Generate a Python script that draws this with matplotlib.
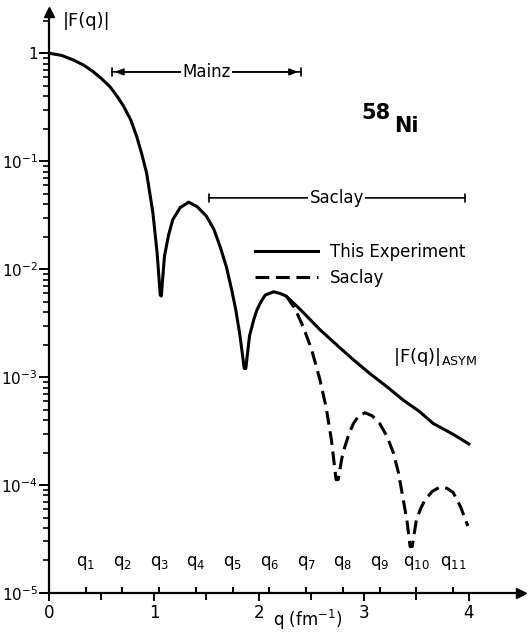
import matplotlib
matplotlib.use("Agg")
import matplotlib.pyplot as plt
import numpy as np

plt.rcParams['font.family'] = ['DejaVu Sans']
plt.rcParams['mathtext.default'] = 'regular'

# solid curve "This Experiment": q (fm^-1) and log10|F(q)|
q_exp = [0.00, 0.12, 0.23, 0.33, 0.42, 0.50, 0.58, 0.65, 0.71, 0.78, 0.835,
         0.88, 0.93, 0.99, 1.03, 1.06, 1.07, 1.10, 1.14, 1.18, 1.25, 1.33,
         1.41, 1.50, 1.57, 1.63, 1.69, 1.74, 1.78, 1.82, 1.86, 1.875, 1.91,
         1.95, 1.98, 2.02, 2.06, 2.14, 2.20, 2.26, 2.40, 2.58, 2.75, 2.90,
         3.06, 3.22, 3.37, 3.53, 3.66, 3.85, 4.00]
logf_exp = [0.0, -0.02, -0.062, -0.11, -0.17, -0.235, -0.31, -0.40, -0.49,
            -0.62, -0.77, -0.92, -1.11, -1.48, -1.85, -2.24, -2.25, -1.88,
            -1.68, -1.54, -1.43, -1.38, -1.42, -1.51, -1.63, -1.79, -1.98,
            -2.19, -2.38, -2.62, -2.92, -2.92, -2.62, -2.47, -2.38, -2.30,
            -2.24, -2.21, -2.225, -2.25, -2.38, -2.56, -2.71, -2.84, -2.97,
            -3.09, -3.21, -3.32, -3.43, -3.53, -3.62]

# dashed curve "Saclay"
q_sac = [2.26, 2.34, 2.42, 2.50, 2.58, 2.64, 2.69, 2.735, 2.755, 2.79, 2.82,
         2.86, 2.90, 2.95, 3.01, 3.08, 3.15, 3.22, 3.28, 3.33, 3.37, 3.41,
         3.44, 3.46, 3.50, 3.54, 3.58, 3.65, 3.72, 3.79, 3.85, 3.92, 3.99]
logf_sac = [-2.25, -2.36, -2.53, -2.74, -3.02, -3.28, -3.58, -3.95, -3.95,
            -3.75, -3.64, -3.52, -3.43, -3.36, -3.33, -3.36, -3.43, -3.55,
            -3.70, -3.89, -4.11, -4.33, -4.57, -4.57, -4.32, -4.22, -4.14,
            -4.06, -4.02, -4.03, -4.07, -4.20, -4.38]

# momentum transfer points q_1 ... q_11
q_marks = [0.35, 0.70, 1.05, 1.40, 1.75, 2.10, 2.45, 2.80, 3.15, 3.50, 3.85]

# measured ranges
mainz_range = [0.60, 2.40]
saclay_range = [1.52, 3.96]

f_exp = 10 ** np.array(logf_exp)
f_sac = 10 ** np.array(logf_sac)

fig = plt.figure(figsize=(5.29, 6.34), dpi=100)
ax = fig.add_axes([0.0926, 0.0647, 0.893, 0.9164])
ax.set_yscale('log')
ax.set_xlim(0, 4.5)
ax.set_ylim(1e-5, 10 ** 0.382)

ax.plot(q_exp, f_exp, color='black', lw=2.2, label='This Experiment',
        solid_joinstyle='round')
ax.plot(q_sac, f_sac, color='black', lw=2.2, linestyle=(0, (4.5, 2.2)),
        label='Saclay')

# axes with arrows
for s in ['top', 'right']:
    ax.spines[s].set_visible(False)
ax.spines['left'].set_linewidth(1.6)
ax.spines['bottom'].set_linewidth(1.6)
ax.plot(0, 1, '^k', ms=7, transform=ax.transAxes, clip_on=False)
ax.plot(1, 0, '>k', ms=7, transform=ax.transAxes, clip_on=False)

yt = [1e-5, 1e-4, 1e-3, 1e-2, 1e-1, 1]
ax.set_yticks(yt)
ax.set_yticklabels(['$10^{-5}$', '$10^{-4}$', '$10^{-3}$', '$10^{-2}$',
                    '$10^{-1}$', '1'], fontsize=11)
ax.set_xticks([0, 1, 2, 3, 4])
ax.set_xticklabels(['0', '1', '2', '3', '4'], fontsize=12)
ax.set_xticks([0.5, 1.5, 2.5, 3.5], minor=True)
ax.tick_params(axis='y', which='major', length=7, width=1.4, direction='out',
               pad=1)
ax.tick_params(axis='x', which='major', length=6, width=1.4, direction='out',
               pad=2)
ax.tick_params(axis='y', which='minor', length=4, width=1.2, direction='out')
ax.tick_params(axis='x', which='minor', length=5, width=1.4, direction='out')
ax.yaxis.set_minor_formatter(plt.NullFormatter())

# q_i marks above the x axis
ax.vlines(q_marks, 1e-5, 1.13e-5, color='black', lw=1.4)
for i, qm in enumerate(q_marks):
    ax.text(qm, 1.55e-5, 'q$_{%d}$' % (i + 1), ha='center', va='bottom',
            fontsize=12)

ax.set_xlabel('q (fm$^{-1}$)', fontsize=12)
ax.xaxis.set_label_coords(2.46 / 4.5, -0.046)
ax.xaxis.label.set_va('center')
ax.text(0.03, 1.0, '|F(q)|', transform=ax.transAxes, fontsize=13,
        ha='left', va='top')

# Mainz range
y_mainz = 10 ** -0.173
ax.annotate('', xy=(mainz_range[0], y_mainz), xytext=(mainz_range[1], y_mainz),
            arrowprops=dict(arrowstyle='|-|, widthA=0.3, widthB=0.3', lw=1.2,
                            shrinkA=0, shrinkB=0))
ax.annotate('', xy=(mainz_range[0], y_mainz), xytext=(mainz_range[1], y_mainz),
            arrowprops=dict(arrowstyle='<|-|>, head_length=0.5, head_width=0.2',
                            lw=1.2, color='black', shrinkA=2, shrinkB=2))
ax.text(1.50, y_mainz, 'Mainz', ha='center', va='center', fontsize=12,
        bbox=dict(facecolor='white', edgecolor='none', pad=1))

# Saclay range
y_saclay = 10 ** -1.34
ax.annotate('', xy=(saclay_range[0], y_saclay),
            xytext=(saclay_range[1], y_saclay),
            arrowprops=dict(arrowstyle='|-|, widthA=0.3, widthB=0.3', lw=1.2,
                            shrinkA=0, shrinkB=0))
ax.text(2.74, y_saclay, 'Saclay', ha='center', va='center', fontsize=12,
        bbox=dict(facecolor='white', edgecolor='none', pad=1))

ax.text(3.11, 10 ** -0.55, '58', ha='center', va='center', fontsize=15,
        fontweight='bold')
ax.text(3.40, 10 ** -0.67, 'Ni', ha='center', va='center', fontsize=15,
        fontweight='bold')

ax.text(3.28, 10 ** -2.81, '$|F(q)|_{ASYM}$', ha='left', va='center',
        fontsize=13)

ax.legend(loc='upper left', bbox_to_anchor=(0.436, 0.602), frameon=False,
          fontsize=12, handlelength=3.8, handletextpad=0.7, labelspacing=0.45,
          borderpad=0, borderaxespad=0)

fig.savefig('out.png', dpi=100)
